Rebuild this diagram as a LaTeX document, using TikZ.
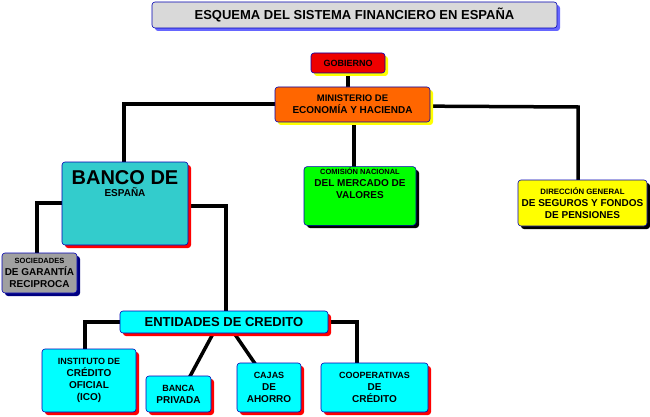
\documentclass[tikz,border=0pt]{standalone}
\usepackage{fontspec}
\setmainfont{Liberation Sans}
\usetikzlibrary{positioning}
\definecolor{teal1}{HTML}{33CCCC}
\definecolor{cy}{HTML}{00FFFF}
\definecolor{gr}{HTML}{00FF00}
\definecolor{ye}{HTML}{FFFF00}
\definecolor{org}{HTML}{FF6600}
\definecolor{rd}{HTML}{EE0000}
\definecolor{gry}{HTML}{A0A0A0}
\tikzset{
 bx/.style={draw=blue!70!black, line width=0.6pt, rounded corners=3pt, align=center, font=\bfseries, inner sep=1pt},
 conn/.style={line width=3.5pt, black},
}
\newcommand{\mybox}[8]{% name, x1,y1,x2,y2, fill, shadow, text+font
 \fill[#7, rounded corners=3pt] (#2+3,#3+3) rectangle (#4+3,#5+3);
 \node[bx, fill=#6, minimum width=#4-#2, minimum height=#5-#3] (#1) at ({(#2+#4)/2},{(#3+#5)/2}) {#8};
}
\begin{document}
\begin{tikzpicture}[x=1pt,y=-1pt]
\useasboundingbox (0,0) rectangle (650,417);
% connectors
\coordinate (c1) at (124,104);
\coordinate (c2) at (578,107);
\coordinate (c3) at (37,203);
\coordinate (c4) at (226,206);
\coordinate (c5) at (85,322);
\coordinate (c6) at (357,322);
\draw[conn] (348,63) -- (348,104);
\draw[conn] (350,104) -- (c1) -- (124,170);
\draw[conn] (400,106) -- (c2) -- (578,190);
\draw[conn] (354,110) -- (354,175);
\draw[conn] (120,203) -- (c3) -- (37,260);
\draw[conn] (150,206) -- (c4) -- (226,320);
\draw[conn] (200,322) -- (c5) -- (85,360);
\draw[conn] (250,322) -- (c6) -- (357,370);
\draw[conn] (215,330) -- (188,380);
\draw[conn] (232,330) -- (258,368);
% boxes
\mybox{t}{152}{2}{557}{28}{gray!30}{blue!60}{\fontsize{13}{15}\selectfont ESQUEMA DEL SISTEMA FINANCIERO EN ESPAÑA}
\mybox{g}{311}{53}{385}{73}{rd}{ye}{\fontsize{9}{10}\selectfont GOBIERNO}
\mybox{m}{275}{87}{430}{122}{org}{ye}{\fontsize{9.5}{12}\selectfont MINISTERIO DE\\ ECONOMÍA Y HACIENDA}
\mybox{b}{62}{162}{188}{245}{teal1}{red}{\fontsize{20}{21}\selectfont BANCO DE\\ ESPAÑA\\[28pt]}
\mybox{cn}{304}{167}{416}{225}{gr}{black}{\fontsize{7.5}{11}\selectfont COMISIÓN NACIONAL\\ DEL MERCADO DE\\ VALORES\\[14pt]}
\mybox{d}{518}{180}{647}{226}{ye}{black}{\fontsize{7.8}{10.5}\selectfont DIRECCIÓN GENERAL\\ DE SEGUROS Y FONDOS\\ DE PENSIONES}
\mybox{s}{2}{253}{77}{293}{gry}{blue!50!black}{\fontsize{7.5}{11}\selectfont SOCIEDADES\\ DE GARANTÍA\\ RECIPROCA}
\mybox{e}{120}{311}{328}{333}{cy}{red}{\fontsize{13}{15}\selectfont ENTIDADES DE CREDITO}
\mybox{i}{42}{349}{136}{412}{cy}{red}{\fontsize{9}{14}\selectfont INSTITUTO DE\\ CRÉDITO\\ OFICIAL\\ (ICO)}
\mybox{bp}{146}{376}{211}{412}{cy}{red}{\fontsize{9}{13}\selectfont BANCA\\ PRIVADA}
\mybox{ca}{237}{363}{301}{412}{cy}{red}{\fontsize{9}{13}\selectfont CAJAS\\ DE\\ AHORRO}
\mybox{co}{321}{363}{428}{412}{cy}{red}{\fontsize{9}{13}\selectfont COOPERATIVAS\\ DE\\ CRÉDITO}
\end{tikzpicture}
\end{document}
